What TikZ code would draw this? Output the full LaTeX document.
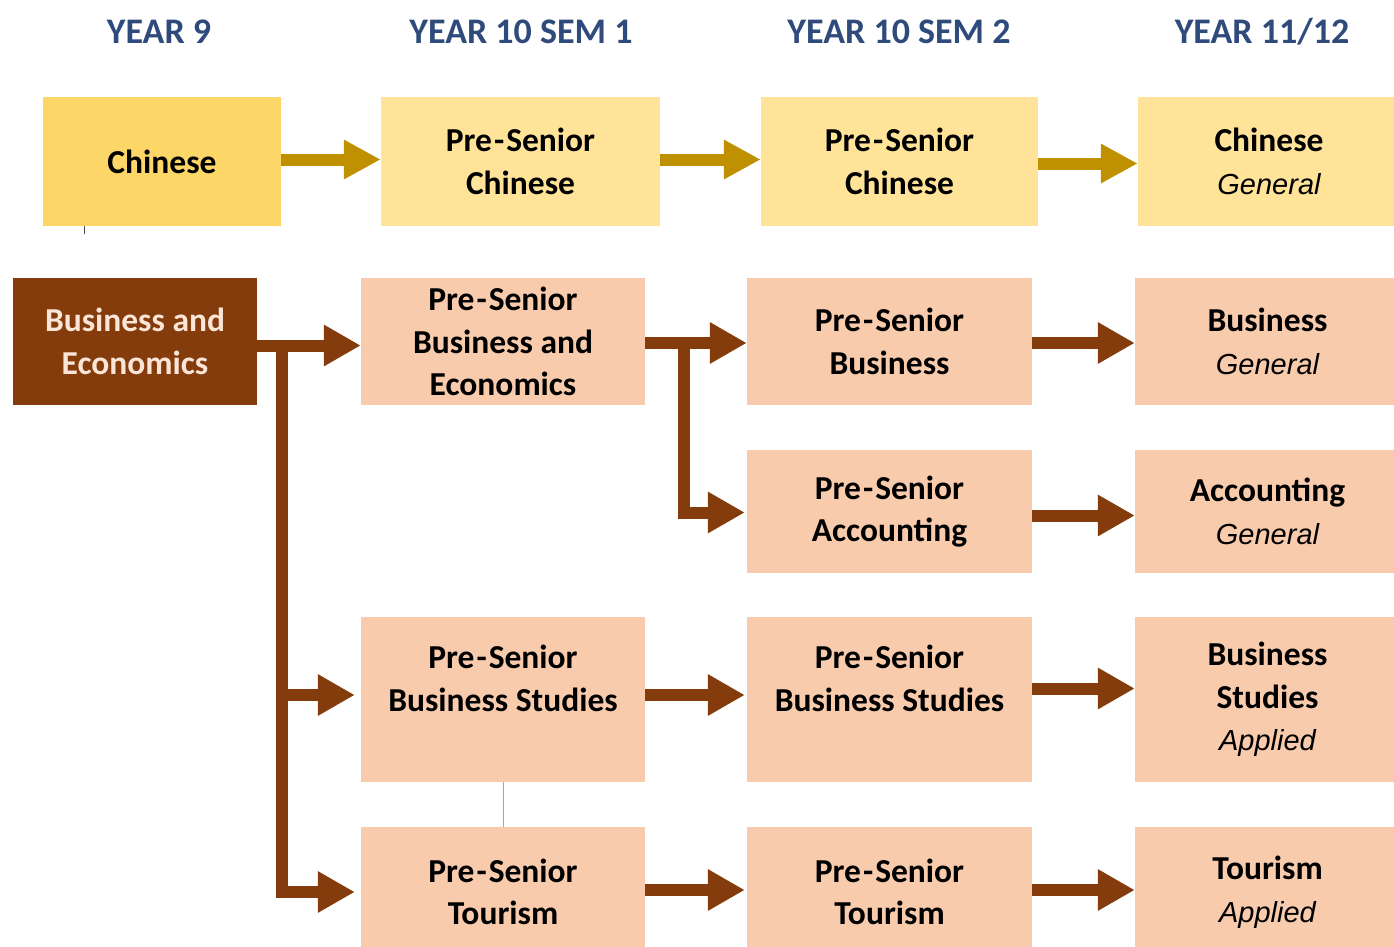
\documentclass[tikz,border=0pt]{standalone}
\usepackage{fontspec}
\setmainfont{Carlito}
\newfontfamily\arialfont{Liberation Sans}
\usetikzlibrary{arrows.meta}
\definecolor{hdrblue}{HTML}{2F4B7C}
\definecolor{ydark}{HTML}{FCD666}
\definecolor{ylight}{HTML}{FEE398}
\definecolor{goldc}{HTML}{BF9000}
\definecolor{brownc}{HTML}{843C0C}
\definecolor{peach}{HTML}{F8CBAD}
\definecolor{cream}{HTML}{FBE5D6}
\tikzset{
  box/.style={inner sep=0pt, align=center, font=\fontsize{33.5}{42.5}\selectfont\bfseries},
  ybox/.style={box, fill=ylight},
  ydbox/.style={box, fill=ydark},
  pbox/.style={box, fill=peach},
  bbox/.style={box, fill=brownc, text=cream},
  hdr/.style={font=\fontsize{36}{40}\selectfont\bfseries, text=hdrblue},
  goldarr/.style={draw=goldc, line width=12pt, -{Triangle[length=37pt,width=37pt]}},
  brownarr/.style={draw=brownc, line width=12pt, line join=miter, -{Triangle[length=37pt,width=39pt]}},
}
\newcommand{\gen}[1]{{\arialfont\itshape\mdseries\fontsize{29}{42.5}\selectfont #1}}
\newcommand{\ps}{Pre\kern2pt-\kern2pt Senior}
\begin{document}
\begin{tikzpicture}[x=1pt,y=-1pt]
\useasboundingbox (0,0) rectangle (1394,947);
\clip (0,0) rectangle (1394,947);
\fill[white] (0,0) rectangle (1394,947);
% headers
\node[hdr] (h1) at (159,32) {YEAR 9};
\node[hdr] (h2) at (521,32) {YEAR 10 SEM 1};
\node[hdr] (h3) at (899,32) {YEAR 10 SEM 2};
\node[hdr] (h4) at (1262,32) {YEAR 11/12};
% chinese row
\node[ydbox, minimum width=238pt, minimum height=129pt] (c9) at (162,161.5) {Chinese};
\node[ybox, minimum width=279pt, minimum height=129pt] (c10a) at (520.5,161.5) {\ps\\Chinese};
\node[ybox, minimum width=277pt, minimum height=129pt] (c10b) at (899.5,161.5) {\ps\\Chinese};
\node[ybox, minimum width=262pt, minimum height=129pt] (c11) at (1269,161.5) {Chinese\\\gen{General}};
\draw[goldarr] ([yshift=2pt]c9.east) -- ([yshift=2pt]c10a.west);
\draw[goldarr] ([yshift=2pt]c10a.east) -- ([yshift=2pt]c10b.west);
\draw[goldarr] ([yshift=-2pt]c10b.east) -- ([yshift=-2pt]c11.west);
\draw[black!70, line width=1pt] ([xshift=-78pt]c9.south) -- ++(0,8);
% business rows
\node[bbox, minimum width=244pt, minimum height=127pt] (be) at (135,341.5) {Business and\\Economics};
\node[pbox, minimum width=284pt, minimum height=127pt] (psbe) at (503,341.5) {\ps\\Business and\\Economics};
\node[pbox, minimum width=285pt, minimum height=127pt] (psb) at (889.5,341.5) {\ps\\Business};
\node[pbox, minimum width=265pt, minimum height=127pt] (bg) at (1267.5,341.5) {Business\\\gen{General}};
\node[pbox, minimum width=285pt, minimum height=123pt] (psa) at (889.5,511.5) {\ps\\Accounting};
\node[pbox, minimum width=265pt, minimum height=123pt] (ag) at (1267.5,511.5) {Accounting\\\gen{General}};
\node[pbox, minimum width=284pt, minimum height=165pt] (psbs1) at (503,699.5) {\ps\\Business Studies\\{}};
\node[pbox, minimum width=285pt, minimum height=165pt] (psbs2) at (889.5,699.5) {\ps\\Business Studies\\{}};
\node[pbox, minimum width=265pt, minimum height=165pt] (bsa) at (1267.5,699.5) {Business\\Studies\\\gen{Applied}};
\node[pbox, minimum width=284pt, minimum height=130pt] (pst1) at (503,892) {\ps\\Tourism};
\node[pbox, minimum width=285pt, minimum height=130pt] (pst2) at (889.5,892) {\ps\\Tourism};
\node[pbox, minimum width=265pt, minimum height=130pt] (ta) at (1267.5,892) {Tourism\\\gen{Applied}};
% thin grey line
\draw[black!35, line width=1pt] (psbs1.south) -- (pst1.north);
% brown arrows
\draw[brownarr] ([yshift=-4pt]be.east) -- ([yshift=-4pt]psbe.west);
\draw[brownarr] ([xshift=24.5pt,yshift=-4pt]be.east) |- ([xshift=-6pt,yshift=4.5pt]psbs1.west);
\draw[brownarr] ([xshift=24.5pt,yshift=-4pt]be.east) |- ([xshift=-6pt]pst1.west);
\draw[brownarr] ([yshift=-1.5pt]psbe.east) -- ([yshift=-1.5pt]psb.west);
\draw[brownarr] ([xshift=38.5pt,yshift=-1.5pt]psbe.east) |- ([xshift=-2pt,yshift=-1pt]psa.west);
\draw[brownarr] ([yshift=-1.5pt]psb.east) -- ([yshift=-1.5pt]bg.west);
\draw[brownarr] ([yshift=-4pt]psa.east) -- ([yshift=-4pt]ag.west);
\draw[brownarr] ([yshift=4.5pt]psbs1.east) -- ([xshift=-2pt,yshift=4.5pt]psbs2.west);
\draw[brownarr] ([yshift=11pt]psbs2.east) -- ([yshift=11pt]bsa.west);
\draw[brownarr] ([yshift=2pt]pst1.east) -- ([xshift=-2pt,yshift=2pt]pst2.west);
\draw[brownarr] ([yshift=2pt]pst2.east) -- ([yshift=2pt]ta.west);
\end{tikzpicture}
\end{document}
